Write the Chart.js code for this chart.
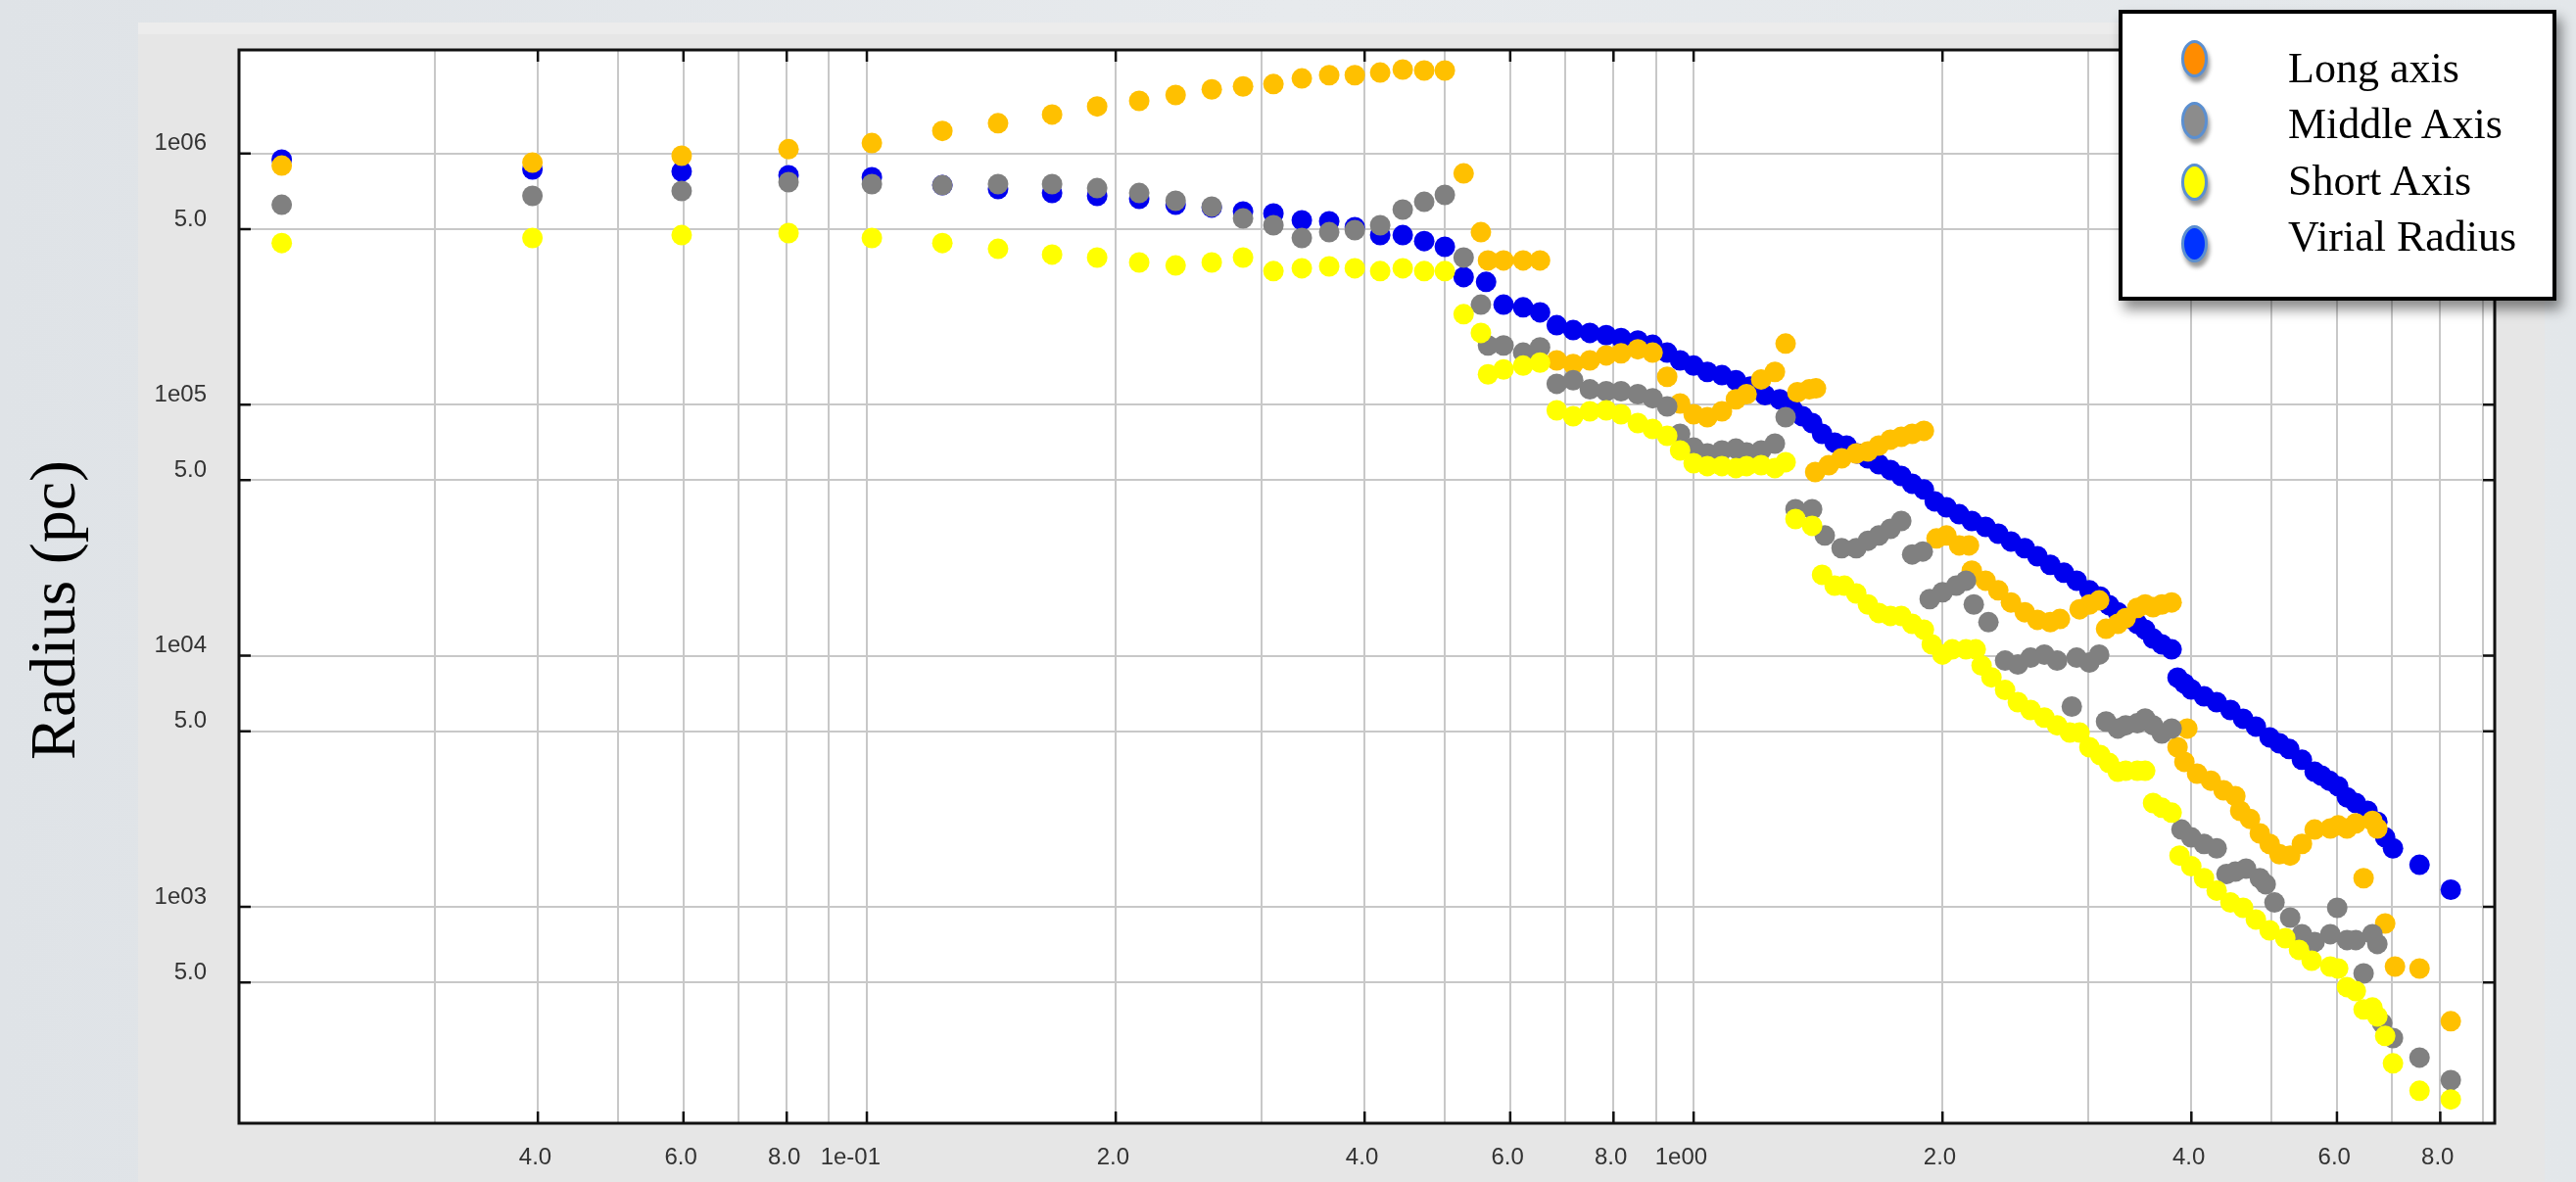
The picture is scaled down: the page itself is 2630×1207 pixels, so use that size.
<!DOCTYPE html>
<html>
<head>
<meta charset="utf-8">
<script src="https://cdn.jsdelivr.net/npm/chart.js@4.4.1/dist/chart.umd.min.js"></script>
<style>
  html, body { margin: 0; padding: 0; }
  body {
    width: 2630px; height: 1207px; position: relative; overflow: hidden;
    background: linear-gradient(90deg, #dfe3e7 0%, #e7eaed 50%, #e3e7ea 100%);
  }
  #panel { position: absolute; left: 141px; top: 23px; width: 2457px; height: 1184px; background: #e6e6e6; }
  #panelTop { position: absolute; left: 141px; top: 23px; width: 2457px; height: 12px; background: #ececec; }
  #chart { position: absolute; left: 0; top: 0; }
  #ytitle {
    position: absolute; left: -146px; top: 583px; width: 400px; height: 80px;
    line-height: 80px; text-align: center; white-space: nowrap;
    font-family: 'Liberation Serif', serif; font-size: 66px; color: #000;
    transform: rotate(-90deg);
  }
  #legend {
    position: absolute; left: 2163px; top: 10px; width: 439px; height: 289px;
    border: 4px solid #000; background: #fff;
    box-shadow: 5px 9px 12px rgba(0, 0, 0, 0.45);
  }
  .lmark {
    position: absolute; left: 60px; width: 21px; height: 32px;
    border: 3px solid #5b8fd0; border-radius: 50%;
    box-shadow: 2px 5px 4px rgba(0, 0, 0, 0.4);
  }
  .ltext {
    position: absolute; left: 169px; height: 50px; line-height: 50px; white-space: nowrap;
    font-family: 'Liberation Serif', serif; font-size: 44px; color: #000;
  }
</style>
</head>
<body>
<div id="panel"></div>
<div id="panelTop"></div>
<canvas id="chart" width="2630" height="1207"></canvas>
<div id="ytitle">Radius (pc)</div>
<div id="legend"></div>
<script>
// eixo x (log): linhas de grade e rotulos
const xTickValues = [0.03, 0.04, 0.05, 0.06, 0.07, 0.08, 0.09, 0.1, 0.2, 0.3, 0.4, 0.5, 0.6, 0.7, 0.8, 0.9, 1, 2, 3, 4, 5, 6, 7, 8, 9];
const xTickLabels = ['', '4.0', '', '6.0', '', '8.0', '', '1e-01', '2.0', '', '4.0', '', '6.0', '', '8.0', '', '1e00', '2.0', '', '4.0', '', '6.0', '', '8.0', ''];

// eixo y (log)
const yTickValues = [500, 1000, 5000, 10000, 50000, 100000, 500000, 1000000];
const yTickLabels = ['5.0', '1e03', '5.0', '1e04', '5.0', '1e05', '5.0', '1e06'];

const seriesNames = ['Long axis', 'Middle Axis', 'Short Axis', 'Virial Radius'];
const pointColors = ['#ffc000', '#808080', '#ffff00', '#0000ee'];
const legendColors = ['#ff8c00', '#8c8c8c', '#ffff00', '#0033ff'];
const drawOrder = [2, 1, 0, 3];

// primeiros snapshots, comuns a todas as series
const earlyX = [0.0196, 0.0394, 0.0597, 0.0804, 0.1014, 0.1234, 0.1441, 0.1675, 0.1899, 0.2135, 0.2363,
    0.2613, 0.2851, 0.3103, 0.3358, 0.3624, 0.3892, 0.4177, 0.4448, 0.4722, 0.5001];

const longAxisX = earlyX.concat([0.527, 0.553, 0.564, 0.589, 0.622, 0.652, 0.683, 0.715, 0.749, 0.784, 0.817,
    0.856, 0.892, 0.929, 0.963, 1.0, 1.039, 1.082, 1.125, 1.159, 1.207, 1.254, 1.292, 1.335, 1.38, 1.406,
    1.403, 1.457, 1.51, 1.573, 1.625, 1.675, 1.73, 1.783, 1.838, 1.899, 1.967, 2.022, 2.095, 2.153, 2.17,
    2.255, 2.336, 2.42, 2.515, 2.605, 2.7, 2.774, 2.93, 3.011, 3.094, 3.154, 3.259, 3.331, 3.441, 3.517,
    3.595, 3.684, 3.786, 3.955, 3.849, 3.923, 4.064, 4.223, 4.375, 4.521, 4.583, 4.709, 4.84, 4.974, 5.111,
    5.267, 5.442, 5.638, 5.89, 6.02, 6.17, 6.323, 6.623, 6.714, 6.462, 6.862, 7.052, 7.551, 8.238]);
const longAxisR = [8.95e5, 9.2e5, 9.8e5, 1.04e6, 1.1e6, 1.23e6, 1.32e6, 1.43e6, 1.54e6, 1.62e6, 1.71e6,
    1.8e6, 1.85e6, 1.89e6, 1.99e6, 2.05e6, 2.05e6, 2.1e6, 2.16e6, 2.14e6, 2.14e6,
    8.33e5, 4.86e5, 3.75e5, 3.75e5, 3.75e5, 3.75e5, 1.5e5, 1.45e5, 1.5e5, 1.57e5, 1.6e5, 1.66e5, 1.61e5,
    1.29e5, 1.01e5, 9.15e4, 8.91e4, 9.4e4, 1.05e5, 1.1e5, 1.26e5, 1.35e5, 1.75e5, 1.12e5, 1.15e5, 1.16e5,
    5.39e4, 5.74e4, 6.11e4, 6.39e4, 6.51e4, 6.87e4, 7.25e4, 7.44e4, 7.65e4, 7.86e4, 2.93e4, 3.01e4, 2.75e4,
    2.75e4, 2.18e4, 1.99e4, 1.82e4, 1.63e4, 1.49e4, 1.39e4, 1.36e4, 1.4e4, 1.53e4, 1.6e4, 1.66e4, 1.28e4,
    1.34e4, 1.41e4, 1.55e4, 1.6e4, 1.56e4, 1.6e4, 1.63e4, 5.13e3, 4.32e3, 3.78e3, 3.39e3, 3.18e3, 2.91e3,
    2.76e3, 2.41e3, 2.24e3, 1.96e3, 1.78e3, 1.62e3, 1.6e3, 1.78e3, 2.03e3, 2.05e3, 2.11e3, 2.05e3, 2.15e3,
    2.2e3, 2.05e3, 1.3e3, 858, 578, 568, 350];

const middleAxisX = earlyX.concat([0.527, 0.553, 0.564, 0.589, 0.622, 0.652, 0.683, 0.715, 0.749, 0.784, 0.817,
    0.856, 0.892, 0.929, 0.963, 1.0, 1.039, 1.082, 1.125, 1.159, 1.207, 1.254, 1.292, 1.328, 1.391, 1.441,
    1.51, 1.573, 1.625, 1.675, 1.73, 1.783, 1.838, 1.893, 1.93, 2.0, 2.078, 2.135, 2.182, 2.273, 2.381, 2.467,
    2.556, 2.656, 2.752, 2.867, 2.906, 3.011, 3.094, 3.154, 3.259, 3.331, 3.441, 3.517, 3.595, 3.684, 3.786,
    3.891, 3.999, 4.143, 4.292, 4.411, 4.521, 4.658, 4.84, 4.92, 5.042, 5.267, 5.442, 5.638, 5.89, 6.004,
    6.17, 6.323, 6.623, 6.714, 6.462, 6.806, 7.013, 7.551, 8.238]);
const middleAxisR = [6.25e5, 6.78e5, 7.09e5, 7.69e5, 7.55e5, 7.48e5, 7.55e5, 7.55e5, 7.28e5, 6.96e5, 6.48e5,
    6.14e5, 5.51e5, 5.18e5, 4.61e5, 4.86e5, 4.95e5, 5.18e5, 5.98e5, 6.42e5, 6.84e5,
    3.85e5, 2.5e5, 1.72e5, 1.72e5, 1.61e5, 1.69e5, 1.21e5, 1.25e5, 1.15e5, 1.13e5, 1.13e5, 1.1e5, 1.06e5,
    9.83e4, 7.65e4, 6.75e4, 6.39e4, 6.57e4, 6.68e4, 6.45e4, 6.57e4, 6.99e4, 8.91e4, 3.83e4, 3.83e4, 3.01e4,
    2.68e4, 2.68e4, 2.87e4, 3.01e4, 3.2e4, 3.44e4, 2.53e4, 2.6e4, 1.68e4, 1.79e4, 1.9e4, 1.99e4, 1.6e4,
    1.36e4, 9.56e3, 9.22e3, 9.82e3, 1.01e4, 9.56e3, 6.27e3, 9.82e3, 9.39e3, 1.01e4, 5.47e3, 5.13e3, 5.28e3,
    5.38e3, 5.62e3, 5.28e3, 4.9e3, 5.13e3, 2.03e3, 1.89e3, 1.78e3, 1.71e3, 1.35e3, 1.38e3, 1.42e3, 1.3e3,
    1.23e3, 1.04e3, 906, 778, 724, 778, 991, 737, 737, 778, 711, 543, 344, 300, 251, 204];

const shortAxisX = earlyX.concat([0.527, 0.553, 0.564, 0.589, 0.622, 0.652, 0.683, 0.715, 0.749, 0.784, 0.817,
    0.856, 0.892, 0.929, 0.963, 1.0, 1.039, 1.082, 1.125, 1.159, 1.207, 1.254, 1.292, 1.328, 1.391, 1.43,
    1.481, 1.522, 1.573, 1.625, 1.675, 1.73, 1.783, 1.838, 1.899, 1.941, 2.0, 2.055, 2.135, 2.194, 2.23,
    2.292, 2.381, 2.467, 2.556, 2.656, 2.752, 2.851, 2.93, 3.011, 3.103, 3.18, 3.259, 3.331, 3.441, 3.517,
    3.595, 3.684, 3.786, 3.87, 3.999, 4.143, 4.292, 4.46, 4.62, 4.787, 4.974, 5.196, 5.398, 5.592, 5.89,
    6.02, 6.17, 6.323, 6.462, 6.623, 6.714, 6.862, 7.013, 7.551, 8.238]);
const shortAxisR = [4.4e5, 4.61e5, 4.73e5, 4.82e5, 4.61e5, 4.4e5, 4.17e5, 3.96e5, 3.85e5, 3.68e5, 3.58e5,
    3.68e5, 3.85e5, 3.4e5, 3.49e5, 3.55e5, 3.49e5, 3.4e5, 3.49e5, 3.4e5, 3.4e5,
    2.29e5, 1.93e5, 1.32e5, 1.38e5, 1.43e5, 1.47e5, 9.49e4, 8.99e4, 9.4e4, 9.49e4, 9.15e4, 8.44e4, 8.0e4,
    7.51e4, 6.57e4, 5.84e4, 5.69e4, 5.69e4, 5.59e4, 5.69e4, 5.74e4, 5.59e4, 5.9e4, 3.5e4, 3.29e4, 2.1e4,
    1.9e4, 1.9e4, 1.77e4, 1.6e4, 1.48e4, 1.44e4, 1.44e4, 1.34e4, 1.27e4, 1.11e4, 1.01e4, 1.06e4, 1.06e4,
    1.06e4, 9.14e3, 8.2e3, 7.3e3, 6.53e3, 6.08e3, 5.67e3, 5.28e3, 4.94e3, 4.94e3, 4.32e3, 4.02e3, 3.74e3,
    3.45e3, 3.48e3, 3.48e3, 3.48e3, 2.59e3, 2.48e3, 2.37e3, 1.6e3, 1.45e3, 1.3e3, 1.16e3, 1.04e3, 991, 890,
    806, 750, 674, 610, 578, 568, 479, 462, 390, 397, 366, 306, 238, 185, 171];

const virialX = earlyX.concat([0.527, 0.561, 0.589, 0.622, 0.652, 0.683, 0.715, 0.749, 0.784, 0.817, 0.856,
    0.892, 0.929, 0.963, 1.0, 1.039, 1.082, 1.125, 1.171, 1.22, 1.271, 1.317, 1.354, 1.391, 1.43, 1.481,
    1.531, 1.577, 1.625, 1.675, 1.73, 1.783, 1.838, 1.899, 1.957, 2.022, 2.095, 2.17, 2.255, 2.336, 2.42,
    2.515, 2.605, 2.7, 2.805, 2.906, 3.011, 3.103, 3.18, 3.259, 3.349, 3.441, 3.517, 3.595, 3.684, 3.786,
    3.849, 3.923, 3.999, 4.143, 4.292, 4.46, 4.62, 4.787, 4.974, 5.111, 5.253, 5.442, 5.638, 5.747, 5.874,
    6.02, 6.17, 6.323, 6.533, 6.714, 6.862, 7.013, 7.551, 8.238]);
const virialR = [9.45e5, 8.64e5, 8.48e5, 8.19e5, 8.04e5, 7.48e5, 7.22e5, 6.96e5, 6.78e5, 6.6e5, 6.25e5,
    6.09e5, 5.87e5, 5.77e5, 5.42e5, 5.37e5, 5.09e5, 4.73e5, 4.73e5, 4.48e5, 4.25e5,
    3.22e5, 3.08e5, 2.5e5, 2.44e5, 2.33e5, 2.07e5, 1.98e5, 1.93e5, 1.89e5, 1.84e5, 1.8e5, 1.73e5, 1.61e5,
    1.5e5, 1.43e5, 1.35e5, 1.31e5, 1.25e5, 1.18e5, 1.09e5, 1.05e5, 9.57e4, 8.99e4, 8.44e4, 7.65e4, 7.06e4,
    6.87e4, 6.39e4, 6.11e4, 5.79e4, 5.49e4, 5.2e4, 4.84e4, 4.59e4, 4.12e4, 3.9e4, 3.66e4, 3.44e4, 3.26e4,
    3.06e4, 2.85e4, 2.68e4, 2.49e4, 2.3e4, 2.14e4, 1.99e4, 1.82e4, 1.72e4, 1.59e4, 1.49e4, 1.41e4, 1.34e4,
    1.27e4, 1.17e4, 1.11e4, 1.06e4, 8.18e3, 7.75e3, 7.34e3, 6.89e3, 6.53e3, 6.08e3, 5.61e3, 5.22e3, 4.73e3,
    4.48e3, 4.25e3, 3.85e3, 3.45e3, 3.33e3, 3.18e3, 3.02e3, 2.73e3, 2.59e3, 2.41e3, 2.18e3, 1.89e3, 1.71e3,
    1.47e3, 1.17e3];

const seriesX = [longAxisX, middleAxisX, shortAxisX, virialX];
const seriesR = [longAxisR, middleAxisR, shortAxisR, virialR];

function pairs(xs, rs) {
    const n = Math.min(xs.length, rs.length);
    const out = [];
    for (let i = 0; i < n; i++) out.push({ x: xs[i], y: rs[i] });
    return out;
}

const tickFont = { family: "'Liberation Sans', Arial, sans-serif", size: 24 };

// fundo branco da area do grafico
const plotBackground = {
    id: 'plotBackground',
    beforeDraw(chart) {
        const { ctx, chartArea: a } = chart;
        ctx.save();
        ctx.fillStyle = '#ffffff';
        ctx.fillRect(a.left, a.top, a.right - a.left, a.bottom - a.top);
        ctx.restore();
    }
};

// moldura preta e marcas de escala por dentro
const frame = {
    id: 'frame',
    afterDraw(chart) {
        const { ctx, chartArea: a, scales } = chart;
        ctx.save();
        ctx.strokeStyle = '#111';
        ctx.lineWidth = 2.5;
        ctx.beginPath();
        xTickValues.forEach((v, i) => {
            if (!xTickLabels[i]) return;
            const px = scales.x.getPixelForValue(v);
            ctx.moveTo(px, a.bottom); ctx.lineTo(px, a.bottom - 12);
            ctx.moveTo(px, a.top); ctx.lineTo(px, a.top + 12);
        });
        yTickValues.forEach(v => {
            const py = scales.y.getPixelForValue(v);
            ctx.moveTo(a.left, py); ctx.lineTo(a.left + 12, py);
            ctx.moveTo(a.right, py); ctx.lineTo(a.right - 12, py);
        });
        ctx.stroke();
        ctx.lineWidth = 3;
        ctx.strokeRect(a.left, a.top, a.right - a.left, a.bottom - a.top);
        ctx.restore();
    }
};

const ctx = document.getElementById('chart').getContext('2d');
const myChart = new Chart(ctx, {
    type: 'scatter',
    data: {
        datasets: seriesNames.map((name, i) => ({
            label: name,
            data: pairs(seriesX[i], seriesR[i]),
            backgroundColor: pointColors[i],
            borderWidth: 0,
            pointRadius: 10.5,
            pointHoverRadius: 10.5,
            order: drawOrder[i]
        }))
    },
    options: {
        responsive: false,
        devicePixelRatio: 1,
        animation: false,
        layout: { padding: { left: 0, top: 51, right: 83, bottom: 0 } },
        plugins: { legend: { display: false }, tooltip: { enabled: false } },
        scales: {
            x: {
                type: 'logarithmic',
                min: 0.0174,
                max: 9.31,
                afterBuildTicks: s => { s.ticks = xTickValues.map(v => ({ value: v })); },
                afterFit: s => { s.height = 60; },
                grid: { color: '#c8c8c8', lineWidth: 2, drawTicks: false },
                border: { display: false },
                ticks: {
                    autoSkip: false, maxRotation: 0, minRotation: 0,
                    align: 'end', labelOffset: 14, padding: 21,
                    color: '#333', font: tickFont,
                    callback: (v, i) => xTickLabels[i]
                }
            },
            y: {
                type: 'logarithmic',
                min: 137.4,
                max: 2.584e6,
                afterBuildTicks: s => { s.ticks = yTickValues.map(v => ({ value: v })); },
                afterFit: s => { s.width = 244; },
                grid: { color: '#c8c8c8', lineWidth: 2, drawTicks: false },
                border: { display: false },
                ticks: {
                    autoSkip: false, padding: 33, labelOffset: -10,
                    color: '#333', font: tickFont,
                    callback: (v, i) => yTickLabels[i]
                }
            }
        }
    },
    plugins: [plotBackground, frame]
});

// legenda em caixa, como no original
const legend = document.getElementById('legend');
seriesNames.forEach((name, i) => {
    const mark = document.createElement('div');
    mark.className = 'lmark';
    mark.style.top = (27 + i * 63) + 'px';
    mark.style.background = legendColors[i];
    legend.appendChild(mark);
    const txt = document.createElement('div');
    txt.className = 'ltext';
    txt.style.top = (31 + i * 57.3) + 'px';
    txt.textContent = name;
    legend.appendChild(txt);
});
</script>
</body>
</html>
